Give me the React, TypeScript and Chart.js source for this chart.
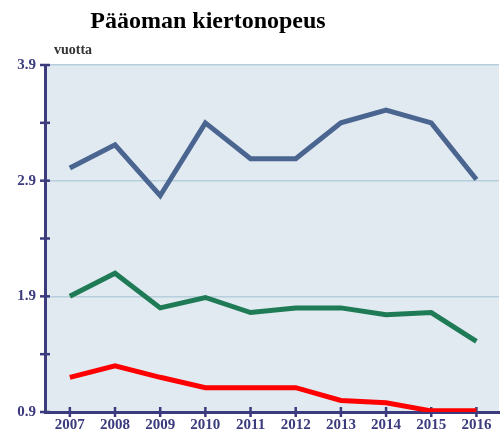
import React, { useEffect, useRef } from "react";
import { Chart, registerables } from "chart.js";

Chart.register(...registerables);

const chartTitle = "Pääoman kiertonopeus";
const yUnit = "vuotta";
const years = [2007, 2008, 2009, 2010, 2011, 2012, 2013, 2014, 2015, 2016];
const seriesBlue = [3.01, 3.21, 2.77, 3.4, 3.09, 3.09, 3.4, 3.51, 3.4, 2.91];
const seriesGreen = [1.9, 2.1, 1.8, 1.89, 1.76, 1.8, 1.8, 1.74, 1.76, 1.51];
const seriesRed = [1.2, 1.3, 1.2, 1.11, 1.11, 1.11, 1.0, 0.98, 0.91, 0.91];
const yTickValues = [0.9, 1.4, 1.9, 2.4, 2.9, 3.4, 3.9];
const yTickLabels = ["0.9", "", "1.9", "", "2.9", "", "3.9"];

const AXIS = "#3b3b7e";
const FONT = "'Liberation Serif', 'Times New Roman', serif";

const decorPlugin = {
  id: "decor",
  beforeDraw(chart: any) {
    const { ctx, chartArea: a } = chart;
    ctx.save();
    ctx.fillStyle = "#e1e9f1";
    ctx.fillRect(a.left, a.top, a.right - a.left, a.bottom - a.top);
    ctx.restore();
  },
  beforeDatasetsDraw(chart: any) {
    const { ctx, chartArea: a, scales } = chart;
    ctx.save();
    ctx.strokeStyle = AXIS;
    ctx.lineWidth = 2.5;
    yTickValues.forEach((v) => {
      const y = scales.y.getPixelForValue(v);
      ctx.beginPath();
      ctx.moveTo(a.left - 5, y);
      ctx.lineTo(a.left + 5, y);
      ctx.stroke();
    });
    years.forEach((v) => {
      const x = scales.x.getPixelForValue(v);
      ctx.beginPath();
      ctx.moveTo(x, a.bottom - 5);
      ctx.lineTo(x, a.bottom + 5);
      ctx.stroke();
    });
    ctx.restore();
  },
  afterDraw(chart: any) {
    const { ctx } = chart;
    ctx.save();
    ctx.fillStyle = "#000";
    ctx.font = `bold 24px ${FONT}`;
    ctx.textAlign = "center";
    ctx.textBaseline = "alphabetic";
    ctx.fillText(chartTitle, 208, 28);
    ctx.fillStyle = "#333";
    ctx.font = `bold 14px ${FONT}`;
    ctx.textAlign = "left";
    ctx.fillText(yUnit, 54, 54);
    ctx.restore();
  },
};

export default function App() {
  const ref = useRef<HTMLCanvasElement>(null);
  useEffect(() => {
    document.body.style.margin = "0";
    const mk = (data: number[]) => years.map((x, i) => ({ x, y: data[i] }));
    const ds = (data: number[], color: string) => ({
      data: mk(data),
      borderColor: color,
      backgroundColor: color,
      borderWidth: 5,
      pointRadius: 0,
      tension: 0,
      fill: false,
    });
    const chart = new Chart(ref.current!, {
      type: "line",
      data: {
        datasets: [
          ds(seriesBlue, "#4a6690"),
          ds(seriesGreen, "#1e7b55"),
          ds(seriesRed, "#ff0000"),
        ],
      },
      options: {
        animation: false,
        responsive: false,
        layout: { padding: { top: 65, right: 5, left: 0, bottom: 0 } },
        plugins: { legend: { display: false }, tooltip: { enabled: false }, title: { display: false } },
        scales: {
          x: {
            type: "linear",
            min: 2006.45,
            max: 2016.5,
            afterBuildTicks: (s: any) => {
              s.ticks = years.map((v) => ({ value: v }));
            },
            afterFit: (s: any) => {
              s.height = 21;
            },
            ticks: {
              callback: (v: any) => String(v),
              color: AXIS,
              font: { family: FONT, size: 15, weight: "bold" },
              padding: 4,
              maxRotation: 0,
              autoSkip: false,
            },
            grid: { display: false, drawTicks: false },
            border: { display: true, color: AXIS, width: 3 },
          },
          y: {
            min: 0.9,
            max: 3.9,
            afterBuildTicks: (s: any) => {
              s.ticks = yTickValues.map((v) => ({ value: v }));
            },
            afterFit: (s: any) => {
              s.width = 45;
            },
            ticks: {
              callback: (_v: any, i: number) => yTickLabels[i],
              color: AXIS,
              font: { family: FONT, size: 15, weight: "bold" },
              padding: 9,
              autoSkip: false,
            },
            grid: {
              drawTicks: false,
              lineWidth: 1.5,
              color: (c: any) => (yTickLabels[c.index] ? "#b7cfdc" : "rgba(0,0,0,0)"),
            },
            border: { display: true, color: AXIS, width: 3 },
          },
        },
      },
      plugins: [decorPlugin],
    } as any);
    return () => chart.destroy();
  }, []);
  return <canvas ref={ref} width={504} height={433} style={{ display: "block" }} />;
}
